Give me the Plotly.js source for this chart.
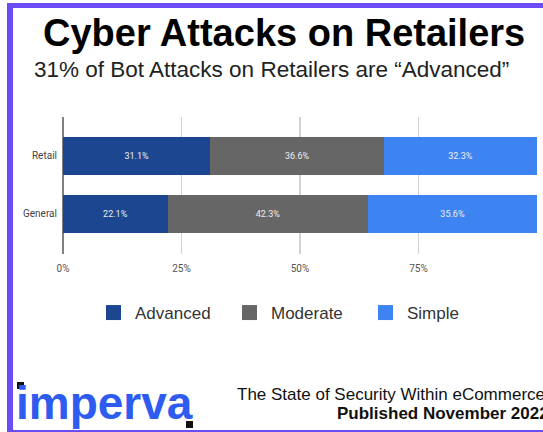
<!DOCTYPE html>
<html>
<head>
<meta charset="utf-8">
<script src="https://cdn.plot.ly/plotly-3.0.1.min.js"></script>
<style>
  html, body { margin: 0; padding: 0; background: #ffffff; }
  #wrap { position: relative; width: 543px; height: 432px; overflow: hidden; }
  #chart { position: absolute; left: 0; top: 0; width: 543px; height: 432px; }
  #frame { position: absolute; left: 7px; top: 3px; width: 560px; height: 422px;
           border-left: 6px solid #6b4cf5; border-top: 5px solid #6b4cf5; border-bottom: 2px solid #6b4cf5;
           pointer-events: none; }
</style>
</head>
<body>
<div id="wrap">
  <div id="chart"></div>
  <div id="frame"></div>
</div>
<script>
const categories = ['General', 'Retail'];
const advanced = [22.1, 31.1];
const moderate = [42.3, 36.6];
const simple = [35.6, 32.3];
const seriesNames = ['Advanced', 'Moderate', 'Simple'];
const tickVals = [0, 25, 50, 75, 100];
const tickText = ['0%', '25%', '50%', '75%', ''];

const W = 543, H = 432;
const M = { l: 63, r: 6, t: 117, b: 178 };
const PW = W - M.l - M.r, PH = H - M.t - M.b;
const px = x => (x - M.l) / PW;
const py = y => (M.t + PH - y) / PH;

const colors = ['#1c4690', '#666666', '#3d84f2'];
const vals = [advanced, moderate, simple];

const barTraces = vals.map((v, i) => ({
  type: 'bar',
  orientation: 'h',
  name: seriesNames[i],
  y: categories,
  x: v,
  text: v.map(d => d.toFixed(1) + '%'),
  textposition: 'inside',
  insidetextanchor: 'middle',
  constraintext: 'none',
  textfont: { family: 'Roboto, Arial, sans-serif', size: 9, color: '#eeeeee' },
  marker: { color: colors[i], line: { width: 0 } },
  width: 0.655,
  showlegend: false,
  hoverinfo: 'skip'
}));

// legend-only entries (larger square swatches)
const legendTraces = seriesNames.map((n, i) => ({
  type: 'scatter',
  mode: 'markers',
  name: n,
  x: [null],
  y: [null],
  marker: { symbol: 'square', size: 15, color: colors[i], line: { width: 0 } },
  showlegend: true,
  hoverinfo: 'skip'
}));

const layout = {
  width: W, height: H,
  margin: M,
  barmode: 'stack',
  paper_bgcolor: '#ffffff',
  plot_bgcolor: '#ffffff',
  showlegend: true,
  legend: {
    orientation: 'h',
    x: px(296), xanchor: 'center',
    y: py(313), yanchor: 'middle',
    font: { family: 'Liberation Sans, Arial, sans-serif', size: 17, color: '#333333' },
    traceorder: 'normal',
    itemwidth: 33,
    entrywidth: 88,
    itemsizing: 'trace'
  },
  xaxis: {
    range: [0, 100],
    tickvals: tickVals,
    ticktext: tickText,
    showgrid: true,
    gridcolor: '#d2d2d2',
    gridwidth: 1.5,
    zeroline: true,
    zerolinecolor: '#808080',
    zerolinewidth: 2,
    showline: false,
    ticks: 'outside',
    ticklen: 5,
    tickcolor: 'rgba(0,0,0,0)',
    tickfont: { family: 'Roboto, Arial, sans-serif', size: 10, color: '#555555' },
    fixedrange: true
  },
  yaxis: {
    type: 'category',
    categoryarray: categories,
    range: [-0.69, 1.672],
    showgrid: false,
    zeroline: false,
    showline: false,
    ticks: 'outside',
    ticklen: 3,
    tickcolor: 'rgba(0,0,0,0)',
    tickfont: { family: 'Roboto, Arial, sans-serif', size: 10, color: '#444444' },
    fixedrange: true
  },
  annotations: [
    { text: '<b>Cyber Attacks on Retailers</b>', xref: 'paper', yref: 'paper',
      x: px(283.5), y: py(33), xanchor: 'center', yanchor: 'middle', showarrow: false,
      font: { family: 'Liberation Sans, Arial, sans-serif', size: 38, color: '#000000' } },
    { text: '31% of Bot Attacks on Retailers are \u201cAdvanced\u201d', xref: 'paper', yref: 'paper',
      x: px(271), y: py(69), xanchor: 'center', yanchor: 'middle', showarrow: false,
      font: { family: 'Liberation Sans, Arial, sans-serif', size: 22.5, color: '#222222' } },
    { text: '<b>imperva</b>', xref: 'paper', yref: 'paper',
      x: px(14), y: py(403), xanchor: 'left', yanchor: 'middle', showarrow: false,
      font: { family: 'Liberation Sans, Arial, sans-serif', size: 46, color: '#2e5cf0' } },
    { text: 'The State of Security Within eCommerce', xref: 'paper', yref: 'paper',
      x: px(235), y: py(394), xanchor: 'left', yanchor: 'middle', showarrow: false,
      font: { family: 'Liberation Sans, Arial, sans-serif', size: 17, color: '#111111' } },
    { text: '<b>Published November 2022</b>', xref: 'paper', yref: 'paper',
      x: px(335), y: py(413), xanchor: 'left', yanchor: 'middle', showarrow: false,
      font: { family: 'Liberation Sans, Arial, sans-serif', size: 17, color: '#111111' } }
  ],
  shapes: [
    { type: 'rect', xref: 'paper', yref: 'paper', x0: px(17), x1: px(24), y0: py(389), y1: py(382),
      fillcolor: '#111111', line: { width: 0 } },
    { type: 'rect', xref: 'paper', yref: 'paper', x0: px(186), x1: px(193), y0: py(428), y1: py(421),
      fillcolor: '#111111', line: { width: 0 } }
  ]
};

Plotly.newPlot('chart', barTraces.concat(legendTraces), layout, { displayModeBar: false, staticPlot: true });
</script>
</body>
</html>
